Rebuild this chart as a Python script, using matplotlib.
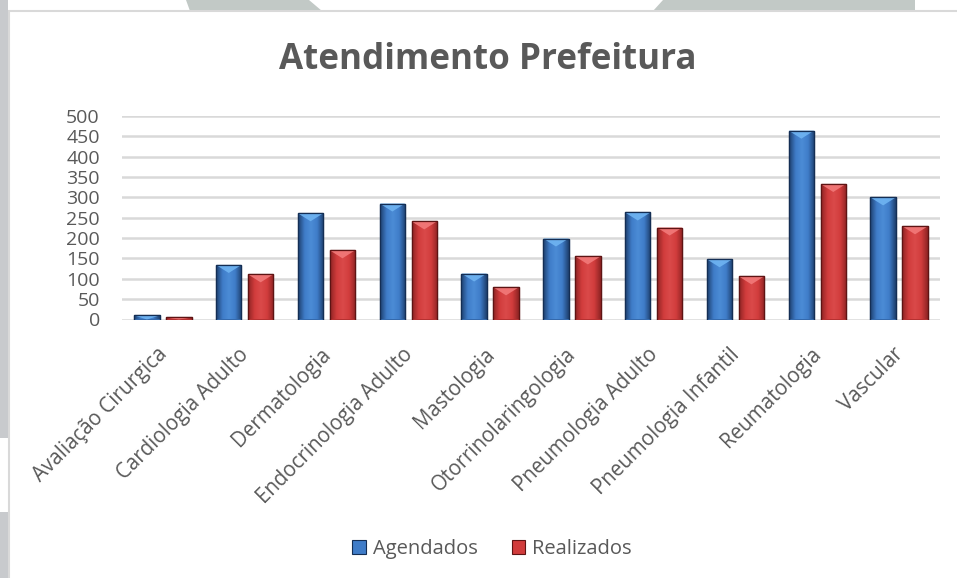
import numpy as np
import matplotlib
matplotlib.use("Agg")
import matplotlib.pyplot as plt
from matplotlib.patches import Rectangle, Polygon
from matplotlib.colors import LinearSegmentedColormap
import matplotlib.transforms as mtransforms

categories = ["Avaliação Cirurgica", "Cardiologia Adulto", "Dermatologia",
              "Endocrinologia Adulto", "Mastologia", "Otorrinolaringologia",
              "Pneumologia Adulto", "Pneumologia Infantil", "Reumatologia", "Vascular"]
agendados = [10, 134, 261, 285, 113, 199, 263, 148, 464, 300]
realizados = [5, 111, 170, 241, 79, 155, 226, 106, 333, 229]
series_names = ["Agendados", "Realizados"]
yticks = [0, 50, 100, 150, 200, 250, 300, 350, 400, 450, 500]

W, H = 957, 578
plt.rcParams['font.family'] = ['Open Sans', 'DejaVu Sans']
TXT = '#595959'

fig = plt.figure(figsize=(W / 100, H / 100), dpi=100)
fig.patch.set_facecolor('white')

def px(x, y):
    return (x / W, 1 - y / H)

# background decorations
deco = '#C2C9C6'
fig.patches.append(Polygon([px(186, 0), px(309, 0), px(322, 11), px(190, 11)],
                           closed=True, transform=fig.transFigure, facecolor=deco,
                           edgecolor='none', zorder=0))
fig.patches.append(Polygon([px(663, 0), px(915, 0), px(915, 11), px(653, 11)],
                           closed=True, transform=fig.transFigure, facecolor=deco,
                           edgecolor='none', zorder=0))
side = '#C8CACD'
fig.patches.append(Rectangle(px(0, 438), 8 / W, 438 / H, transform=fig.transFigure,
                             facecolor=side, edgecolor='none', zorder=0))
fig.patches.append(Rectangle(px(0, 578), 8 / W, 66 / H, transform=fig.transFigure,
                             facecolor=side, edgecolor='none', zorder=0))
# chart frame
fig.patches.append(Rectangle(px(8.5, 590), 1.0, (590 - 11) / H, transform=fig.transFigure,
                             facecolor='white', edgecolor='#D9D9D9', lw=1.5, zorder=1))

left, right, top, bottom = 122, 940, 116, 319.5
ax = fig.add_axes([left / W, 1 - bottom / H, (right - left) / W, (bottom - top) / H])
ax.set_facecolor('none')
ax.set_zorder(2)

x = np.arange(len(categories))
bw = 0.31
off = 0.195
ax.set_xlim(-0.5, len(categories) - 0.5)
ax.set_ylim(0, 500)

styles = [
    dict(dark='#1E3F6E', edge='#142E54', mid='#3F7CC8', light='#4C8CD6', bevel='#6FB4F2'),
    dict(dark='#8E2424', edge='#5E1414', mid='#D13C3C', light='#DA4A4A', bevel='#F27A7A'),
]

units_per_px = 500 / (bottom - top)
bevel_depth = 8 * units_per_px

for si, (vals, st) in enumerate(zip([agendados, realizados], styles)):
    pos = x - off if si == 0 else x + off
    bars = ax.bar(pos, vals, width=bw, color=st['mid'], edgecolor=st['edge'], lw=0.9,
                  zorder=3, label=series_names[si])
    cmap = LinearSegmentedColormap.from_list('g', [st['dark'], st['mid'], st['light'], st['mid'], st['dark']])
    grad = np.linspace(0, 1, 64).reshape(1, -1)
    for b in bars:
        x0, w, h = b.get_x(), b.get_width(), b.get_height()
        im = ax.imshow(grad, extent=[x0, x0 + w, 0, h], aspect='auto', cmap=cmap,
                       zorder=3.5, interpolation='bicubic')
        im.set_clip_path(b)
        d = min(h, bevel_depth)
        ax.add_patch(Polygon([(x0, h), (x0 + w, h), (x0 + w / 2, h - d)], closed=True,
                             facecolor=st['bevel'], edgecolor='none', alpha=0.9, zorder=4))
        ax.add_patch(Rectangle((x0, 0), w, h, facecolor='none', edgecolor=st['edge'],
                               lw=0.9, zorder=4.5))

ax.set_xlim(-0.5, len(categories) - 0.5)
ax.set_ylim(0, 500)
ax.set_aspect('auto')

ax.set_yticks(yticks)
ax.yaxis.grid(True, color='#D9D9D9', lw=1.8, zorder=0)
ax.set_axisbelow(True)
for s in ax.spines.values():
    s.set_visible(False)
ax.tick_params(axis='y', length=0, pad=16, labelsize=14, labelcolor=TXT)

ax.set_xticks(x)
ax.set_xticklabels(categories, rotation=45, ha='right', va='center',
                   rotation_mode='anchor', fontsize=14.8, color=TXT)
ax.tick_params(axis='x', length=0, pad=23)
shift = mtransforms.ScaledTranslation(1 / 100, 0, fig.dpi_scale_trans)
for lab in ax.get_xticklabels():
    lab.set_transform(lab.get_transform() + shift)

fig.text(488 / W, 1 - 60 / H, "Atendimento Prefeitura", ha='center', va='center',
         fontsize=25.2, fontweight='bold', color=TXT, zorder=5)

handles = [Rectangle((0, 0), 1, 1, facecolor=styles[i]['mid'], edgecolor=styles[i]['edge'], lw=0.8)
           for i in range(2)]
leg = fig.legend(handles, series_names, loc='center', bbox_to_anchor=(492 / W, 1 - 549 / H),
                 ncol=2, frameon=False, fontsize=14.5, handlelength=0.65, handleheight=0.65,
                 handletextpad=0.35, columnspacing=1.7, labelcolor=TXT)

fig.savefig('out.png', dpi=100, facecolor='white')
